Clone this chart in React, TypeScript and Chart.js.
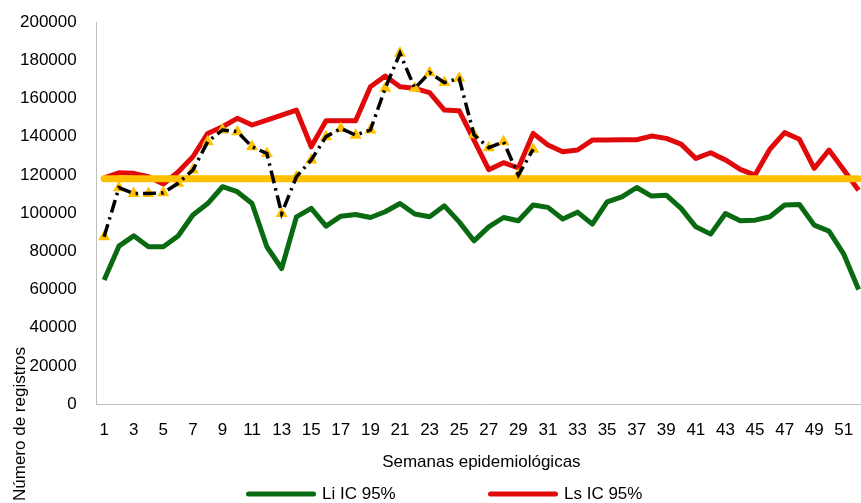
import React, { useEffect, useRef } from 'react';
import { Chart, registerables } from 'chart.js';

Chart.register(...registerables);

// ---- Data ----
const weeks = [
  '1', '2', '3', '4', '5', '6', '7', '8', '9', '10', '11', '12', '13', '14', '15', '16', '17', '18',
  '19', '20', '21', '22', '23', '24', '25', '26', '27', '28', '29', '30', '31', '32', '33', '34', '35',
  '36', '37', '38', '39', '40', '41', '42', '43', '44', '45', '46', '47', '48', '49', '50', '51', '52',
];

const liIC = [
  65000, 82700, 88100, 82400, 82400, 88000, 99000, 105000, 113800, 111200, 105000, 82400, 71000,
  98000, 102500, 93200, 98400, 99300, 97700, 100700, 105000, 99500, 98100, 103800, 95400, 85500,
  92800, 97700, 96000, 104200, 103000, 96900, 100500, 94200, 105900, 108500, 113400, 108900, 109400,
  102500, 92800, 89000, 99800, 96000, 96300, 98100, 104200, 104500, 93700, 90600, 78500, 60000,
];

const lsIC = [
  118500, 121100, 120800, 119000, 115200, 121500, 129500, 141700, 145200, 149600, 146100, 148700,
  151300, 153900, 134700, 148300, 148300, 148300, 166100, 171700, 166100, 165300, 163000, 153900,
  153600, 138200, 122700, 126400, 123600, 141700, 135600, 132100, 133000, 138200, 138200, 138400,
  138400, 140300, 139100, 136100, 128600, 131600, 127800, 122900, 119900, 133400, 142100, 138600,
  123400, 133000, 122500, 112000,
];

const observed = [
  87600, 113300, 110300, 110300, 110600, 115600, 122500, 137300, 143500, 142600, 134700, 131200,
  99800, 119000, 127800, 140000, 144300, 140800, 143500, 165300, 183600, 165300, 173500, 168300,
  170500, 141000, 134200, 137300, 119900, 133400,
];

const promedio = 118000;

const yMin = 0;
const yMax = 200000;
const yStep = 20000;

const LABEL_LI = 'Li IC 95%';
const LABEL_LS = 'Ls IC 95%';
const LABEL_OBS = 'Casos';
const LABEL_PROM = 'Promedio';
const xTitle = 'Semanas epidemiológicas';
const yTitle = 'Número de registros';

// ---- Styles ----
const FONT = "'Liberation Sans', Arial, sans-serif";
const GREEN = '#0A6A12';
const RED = '#E00A0A';
const GOLD = '#FFC000';
const AXIS = '#BFBFBF';
const TEXT = '#000000';

const yTitlePlugin = {
  id: 'yTitlePlugin',
  afterDraw(chart: any) {
    const ctx = chart.ctx;
    ctx.save();
    ctx.translate(20, 424);
    ctx.rotate(-Math.PI / 2);
    ctx.font = `17px ${FONT}`;
    ctx.fillStyle = TEXT;
    ctx.textAlign = 'center';
    ctx.textBaseline = 'middle';
    ctx.fillText(yTitle, 0, 0);
    ctx.restore();
  },
};

const legendPlugin = {
  id: 'legendPlugin',
  afterDraw(chart: any) {
    const ctx = chart.ctx;
    const entries = [
      { label: LABEL_LI, x: 246 },
      { label: LABEL_LS, x: 488 },
    ];
    const y = 494;
    ctx.save();
    for (const e of entries) {
      const ds = chart.data.datasets.find((d: any) => d.label === e.label);
      if (!ds) continue;
      ctx.strokeStyle = ds.borderColor;
      ctx.lineWidth = 5;
      ctx.lineCap = 'round';
      ctx.beginPath();
      ctx.moveTo(e.x + 2.5, y);
      ctx.lineTo(e.x + 70 - 2.5, y);
      ctx.stroke();
      ctx.font = `17px ${FONT}`;
      ctx.fillStyle = TEXT;
      ctx.textAlign = 'left';
      ctx.textBaseline = 'middle';
      ctx.fillText(ds.label, e.x + 76, y);
    }
    ctx.restore();
  },
};

export default function App() {
  const canvasRef = useRef<HTMLCanvasElement | null>(null);

  useEffect(() => {
    if (!canvasRef.current) return;
    const chart = new Chart(canvasRef.current, {
      type: 'line',
      data: {
        labels: weeks,
        datasets: [
          {
            label: LABEL_OBS,
            data: observed,
            borderColor: '#000000',
            borderWidth: 3.5,
            borderDash: [13, 5, 2.5, 5],
            pointRadius: 0,
            fill: false,
            tension: 0,
            order: 0,
          },
          {
            label: LABEL_OBS + ' (marcador)',
            data: observed,
            showLine: false,
            pointStyle: 'triangle',
            pointRadius: 7,
            pointBackgroundColor: GOLD,
            pointBorderColor: GOLD,
            pointBorderWidth: 0,
            order: 1,
          },
          {
            label: LABEL_PROM,
            data: [
              { x: weeks[0], y: promedio },
              { x: weeks[weeks.length - 1], y: promedio },
            ],
            borderColor: GOLD,
            borderWidth: 7,
            borderCapStyle: 'round',
            pointRadius: 0,
            fill: false,
            order: 2,
          },
          {
            label: LABEL_LS,
            data: lsIC,
            borderColor: RED,
            backgroundColor: RED,
            borderWidth: 5,
            borderJoinStyle: 'round',
            pointRadius: 0,
            fill: false,
            tension: 0,
            order: 3,
          },
          {
            label: LABEL_LI,
            data: liIC,
            borderColor: GREEN,
            backgroundColor: GREEN,
            borderWidth: 5,
            borderJoinStyle: 'round',
            pointRadius: 0,
            fill: false,
            tension: 0,
            order: 4,
          },
        ],
      } as any,
      options: {
        animation: false,
        responsive: false,
        devicePixelRatio: 1,
        layout: { padding: { left: 0, top: 22, right: 0, bottom: 22 } },
        plugins: {
          legend: { display: false },
          tooltip: { enabled: false },
        },
        scales: {
          x: {
            type: 'category',
            offset: true,
            grid: { display: false, drawTicks: false },
            border: { display: true, color: AXIS, width: 1 },
            afterFit: (scale: any) => {
              scale.paddingLeft = 0;
              scale.paddingRight = 0;
            },
            ticks: {
              autoSkip: false,
              maxRotation: 0,
              minRotation: 0,
              padding: 16,
              color: TEXT,
              font: { family: FONT, size: 17 },
              callback: (_v: any, i: number) => (i % 2 === 0 ? weeks[i] : ''),
            },
            title: {
              display: true,
              text: xTitle,
              color: TEXT,
              font: { family: FONT, size: 17 },
              padding: { top: -4, bottom: 8 },
            },
          },
          y: {
            min: yMin,
            max: yMax,
            grid: { display: false, drawTicks: false },
            border: { display: true, color: AXIS, width: 1 },
            afterFit: (scale: any) => {
              scale.paddingTop = 0;
              scale.paddingBottom = 0;
            },
            ticks: {
              stepSize: yStep,
              padding: 20,
              color: TEXT,
              font: { family: FONT, size: 17 },
              callback: (v: any) => String(v),
            },
          },
        },
      } as any,
      plugins: [yTitlePlugin, legendPlugin],
    });
    return () => chart.destroy();
  }, []);

  return (
    <div
      style={{
        position: 'fixed',
        left: 0,
        top: 0,
        width: 861,
        height: 503,
        overflow: 'hidden',
        background: '#ffffff',
      }}
    >
      <canvas ref={canvasRef} width={873} height={503} style={{ display: 'block' }} />
    </div>
  );
}
